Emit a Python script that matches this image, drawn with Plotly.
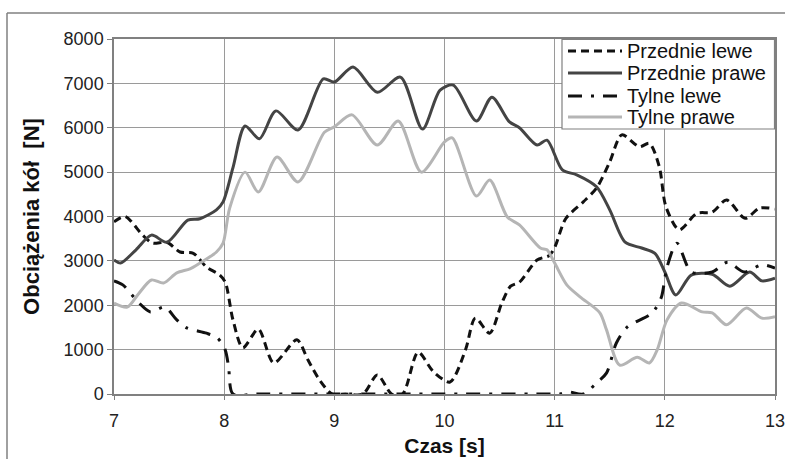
import plotly.graph_objects as go

# ---- data ----
pl_t = [7.0, 7.1, 7.26, 7.35, 7.48, 7.6, 7.72, 7.84, 7.96, 8.01, 8.08, 8.17, 8.31, 8.45, 8.66, 8.76, 8.87, 8.98,
        9.1, 9.26, 9.39, 9.52, 9.62, 9.76, 9.9, 10.05, 10.19, 10.28, 10.41, 10.52, 10.6, 10.68, 10.84, 10.95,
        11.0, 11.1, 11.26, 11.38, 11.5, 11.61, 11.77, 11.86, 11.95, 12.01, 12.13, 12.29, 12.43, 12.56, 12.73,
        12.86, 13.0]
pl_v = [3880, 4000, 3580, 3400, 3420, 3200, 3170, 2860, 2680, 2520, 1670, 1040, 1460, 700, 1220, 770, 300, 0,
        0, 0, 430, 0, 0, 940, 500, 270, 990, 1710, 1370, 2050, 2430, 2520, 3020, 3120,
        3300, 3950, 4330, 4640, 5230, 5840, 5570, 5650, 5120, 4220, 3700, 4070, 4100, 4370, 3960,
        4190, 4170]

pp_t = [7.0, 7.06, 7.2, 7.34, 7.48, 7.67, 7.78, 7.93, 7.99, 8.08, 8.19, 8.32, 8.47, 8.67, 8.9, 9.0, 9.17, 9.39,
        9.6, 9.8, 9.96, 10.08, 10.29, 10.43, 10.59, 10.68, 10.84, 10.93, 11.07, 11.2, 11.38, 11.5, 11.64,
        11.79, 11.91, 12.0, 12.1, 12.24, 12.43, 12.59, 12.77, 12.88, 13.0]
pp_v = [3020, 2950, 3250, 3580, 3420, 3920, 3950, 4150, 4330, 5100, 6040, 5750, 6380, 5950, 7100, 7030, 7370, 6800,
        7140, 5970, 6850, 6960, 6150, 6690, 6130, 6000, 5610, 5720, 5050, 4940, 4670, 4150, 3420,
        3290, 3170, 2750, 2230, 2680, 2700, 2430, 2750, 2550, 2610]

tl_t = [7.0, 7.08, 7.22, 7.33, 7.46, 7.57, 7.66, 7.84, 7.94, 8.01, 8.04, 8.08, 8.3, 9.0, 10.0, 11.0, 11.05,
        11.12, 11.26, 11.38, 11.47, 11.56, 11.66, 11.86, 11.92, 11.97, 12.02, 12.11, 12.24, 12.43, 12.57,
        12.72, 12.88, 13.0]
tl_v = [2550, 2460, 2070, 1850, 1960, 1670, 1490, 1370, 1260, 990, 610, 0, 0, 0, 0, 0, 0,
        50, 0, 250, 470, 1150, 1510, 1780, 1940, 2190, 2860, 3400, 2750, 2750, 2970,
        2750, 2910, 2840]

tp_t = [7.0, 7.12, 7.22, 7.34, 7.45, 7.57, 7.69, 7.78, 7.93, 7.99, 8.05, 8.19, 8.31, 8.48, 8.67, 8.91, 9.0, 9.16,
        9.39, 9.58, 9.79, 10.0, 10.07, 10.29, 10.41, 10.57, 10.68, 10.87, 10.93, 11.0, 11.11, 11.23, 11.41,
        11.47, 11.59, 11.75, 11.86, 11.93, 12.02, 12.15, 12.34, 12.43, 12.56, 12.74, 12.88, 13.0]
tp_v = [2050, 1960, 2250, 2570, 2500, 2730, 2820, 2950, 3200, 3400, 4190, 5000, 4550, 5340, 4780, 5900, 6020, 6290,
        5610, 6150, 5000, 5680, 5770, 4460, 4820, 3990, 3810, 3290, 3250, 2950, 2460, 2190, 1830,
        1450, 650, 830, 700, 990, 1670, 2050, 1850, 1830, 1560, 1940, 1710, 1740]

series_names = ["Przednie lewe", "Przednie prawe", "Tylne lewe", "Tylne prawe"]
x_ticks = [7, 8, 9, 10, 11, 12, 13]
y_ticks = [0, 1000, 2000, 3000, 4000, 5000, 6000, 7000, 8000]

FONT = "Liberation Sans, Arial, sans-serif"
W, H = 785, 459
ML, MR, MT, MB = 114, 10, 39, 65
PW, PH = W - ML - MR, H - MT - MB


def px_x(p):  # pixel -> paper x
    return (p - ML) / PW


def px_y(p):  # pixel -> paper y
    return (H - MB - p) / PH


fig = go.Figure()
styles = [
    dict(color="#111111", width=3, dash="8px,5px"),
    dict(color="#444444", width=3),
    dict(color="#111111", width=3, dash="14px,9px,3px,9px"),
    dict(color="#b5b5b5", width=3),
]
data = [(pl_t, pl_v), (pp_t, pp_v), (tl_t, tl_v), (tp_t, tp_v)]
for name, (t, v), ln in zip(series_names, data, styles):
    fig.add_trace(go.Scatter(x=t, y=v, name=name, mode="lines", showlegend=False,
                             line=dict(shape="spline", smoothing=0.8, **ln)))

fig.update_layout(
    width=W, height=H,
    margin=dict(l=ML, r=MR, t=MT, b=MB, autoexpand=False),
    paper_bgcolor="white", plot_bgcolor="white",
    font=dict(family=FONT, size=18, color="#222222"),
    xaxis=dict(range=[7, 13], tickvals=x_ticks, ticktext=[str(v) for v in x_ticks],
               showgrid=True, gridcolor="#9a9a9a", gridwidth=1,
               showline=True, linecolor="#808080", linewidth=1.5, mirror=True,
               ticks="outside", ticklen=4, tickcolor="#808080", automargin=False,
               ticklabeloverflow="allow",
               zeroline=False, tickfont=dict(size=18), ticklabelstandoff=6,
               title=dict(text="<b>Czas [s]</b>", font=dict(size=21, color="#111111"), standoff=8)),
    yaxis=dict(range=[0, 8000], tickvals=y_ticks, ticktext=[str(v) for v in y_ticks],
               showgrid=True, gridcolor="#9a9a9a", gridwidth=1,
               showline=True, linecolor="#808080", linewidth=1.5, mirror=True,
               ticks="outside", ticklen=5, tickcolor="#808080", automargin=False,
               ticklabeloverflow="allow",
               zeroline=False, tickfont=dict(size=18),
               title=dict(text="<b>Obciążenia kół \u00a0[N]</b>", font=dict(size=22, color="#111111"), standoff=18)),
)

# legend box (drawn as layout decoration to match the compact reference legend)
fig.add_shape(type="rect", xref="paper", yref="paper", layer="above",
              x0=px_x(562), x1=px_x(774.5), y0=px_y(129), y1=px_y(39.5),
              fillcolor="white", line=dict(color="#808080", width=1.2))
rows_y = [51, 73, 96, 117]
for name, ln, ry in zip(series_names, styles, rows_y):
    fig.add_shape(type="line", xref="paper", yref="paper", layer="above",
                  x0=px_x(568), x1=px_x(622), y0=px_y(ry), y1=px_y(ry), line=ln)
    fig.add_annotation(xref="paper", yref="paper", x=px_x(625), y=px_y(ry), text=name,
                       showarrow=False, xanchor="left", yanchor="middle",
                       font=dict(size=20, color="#111111", family=FONT))

# outer chart-area border (top and left edges visible)
fig.add_shape(type="line", xref="paper", yref="paper", x0=px_x(7), x1=px_x(790), y0=px_y(13), y1=px_y(13),
              line=dict(color="#808080", width=1.5))
fig.add_shape(type="line", xref="paper", yref="paper", x0=px_x(7), x1=px_x(7), y0=px_y(13), y1=px_y(465),
              line=dict(color="#808080", width=1.5))

fig.write_html("out.html")
